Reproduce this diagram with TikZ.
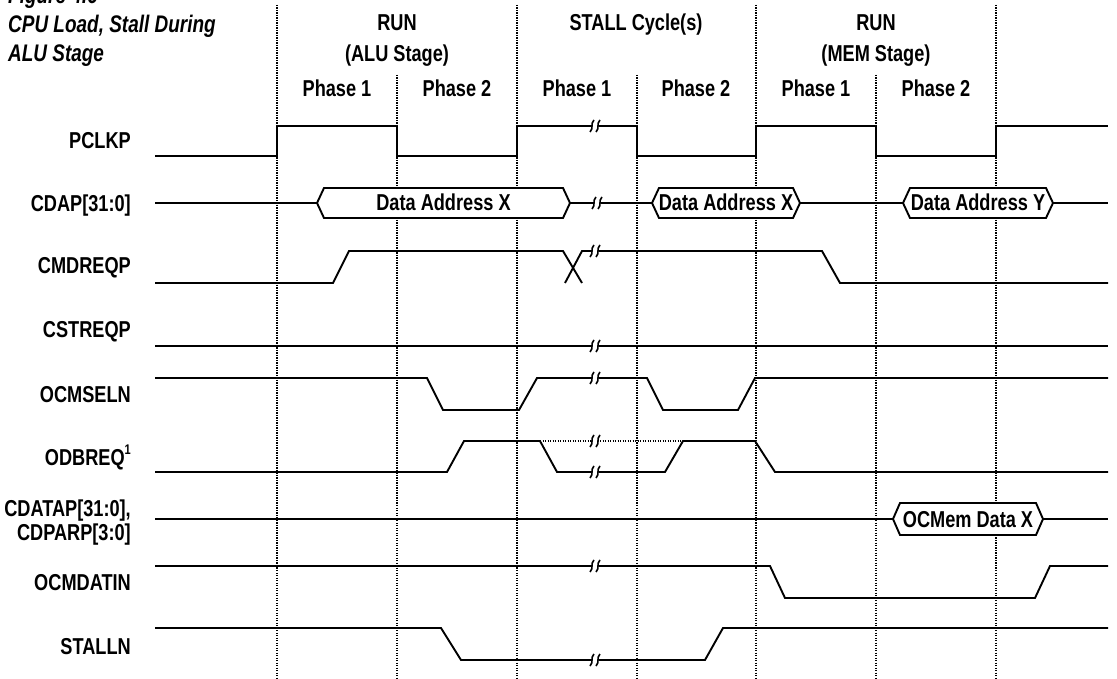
\documentclass[tikz,border=0pt]{standalone}
\usepackage{fontspec}
\newfontfamily\cnd{Liberation Sans}[FakeStretch=0.79]
\newcommand\brkmark[2]{%
  \fill[white] (#1-3.5,#2-3) rectangle (#1+3.5,#2+3);
  \draw[line width=1.6pt] (#1-5,#2+6) .. controls (#1-1,#2+2) and (#1-5,#2-2) .. (#1-1,#2-6);
  \draw[line width=1.6pt] (#1+1,#2+6) .. controls (#1+5,#2+2) and (#1+1,#2-2) .. (#1+5,#2-6);}
\newcommand\busshape[4]{%
  \draw[sig,fill=white] (#1,#3) -- (#1+7,#3-#4) -- (#2-7,#3-#4) -- (#2,#3) -- (#2-7,#3+#4) -- (#1+7,#3+#4) -- cycle;}
\begin{document}
\begin{tikzpicture}[x=1pt,y=-1pt,
  sig/.style={line width=1.9pt, line join=miter},
  gridline/.style={line width=1.1pt, dash pattern=on 1.2pt off 1.3pt},
  lab/.style={anchor=base east, inner sep=0pt, font={\cnd\bfseries\fontsize{23}{27}\selectfont}},
  hdr/.style={anchor=base, inner sep=0pt, font={\cnd\bfseries\fontsize{23}{27}\selectfont}},
  bustxt/.style={anchor=base, inner sep=0pt, font={\cnd\bfseries\fontsize{23}{27}\selectfont}},
  ttl/.style={anchor=base west, inner sep=0pt, font={\cnd\bfseries\itshape\fontsize{24}{28}\selectfont}}]
\useasboundingbox (0,0) rectangle (1117,679);
\fill[white] (0,0) rectangle (1117,679);

% title
\node[ttl] (fig) at (8,4) {Figure 4.6};
\node[ttl] (t1) at (8,33) {CPU Load, Stall During};
\node[ttl] (t2) at (8,62) {ALU Stage};

% grid
\foreach \x in {277,517,756,996} \draw[gridline] (\x,5) -- (\x,679);
\foreach \x in {397,637,876} \draw[gridline] (\x,75) -- (\x,679);

% header
\node[hdr] (run1) at (397,31) {RUN};
\node[hdr] (alu) at (397,62) {(ALU Stage)};
\node[hdr] (stall) at (636,31) {STALL Cycle(s)};
\node[hdr] (run2) at (876,31) {RUN};
\node[hdr] (mem) at (876,62) {(MEM Stage)};
\node[hdr] (p1a) at (337,97) {Phase 1};
\node[hdr] (p2a) at (457,97) {Phase 2};
\node[hdr] (p1b) at (577,97) {Phase 1};
\node[hdr] (p2b) at (696,97) {Phase 2};
\node[hdr] (p1c) at (816,97) {Phase 1};
\node[hdr] (p2c) at (936,97) {Phase 2};

% labels
\node[lab] (lpclkp) at (131,149) {PCLKP};
\node[lab] (lcdap) at (131,212) {CDAP[31:0]};
\node[lab] (lcmd) at (131,274) {CMDREQP};
\node[lab] (lcst) at (131,337.5) {CSTREQP};
\node[lab] (locm) at (131,402.5) {OCMSELN};
\node[lab] (lodb) at (131,465.5) {ODBREQ\raisebox{0.5em}{\fontsize{14}{14}\selectfont 1}};
\node[lab] (lcdata) at (131,516.5) {CDATAP[31:0],};
\node[lab] (lcdpar) at (131,540) {CDPARP[3:0]};
\node[lab] (locmd) at (131,590) {OCMDATIN};
\node[lab] (lstall) at (131,654) {STALLN};

% PCLKP
\draw[sig] (155,156) -- (277,156) -- (277,126) -- (397,126) -- (397,156) -- (517,156) -- (517,126) -- (637,126) -- (637,156) -- (756,156) -- (756,126) -- (876,126) -- (876,156) -- (996,156) -- (996,126) -- (1108,126);
\brkmark{595}{126}

% CDAP
\draw[sig] (155,203) -- (317,203);
\busshape{317}{570}{203}{15}
\draw[sig] (570,203) -- (652,203);
\busshape{652}{800}{203}{15}
\draw[sig] (800,203) -- (903,203);
\busshape{903}{1053}{203}{15}
\draw[sig] (1053,203) -- (1108,203);
\brkmark{597}{203}
\node[bustxt] (dax1) at (443.5,211) {Data Address X};
\node[bustxt] (dax2) at (726,211) {Data Address X};
\node[bustxt] (day) at (978,211) {Data Address Y};

% CMDREQP
\draw[sig] (155,283) -- (333,283) -- (349,251) -- (563,251) -- (582,283);
\draw[sig] (565,283) -- (582,251) -- (822,251) -- (840,283) -- (1108,283);
\brkmark{595}{251}

% CSTREQP
\draw[sig] (155,346) -- (1108,346);
\brkmark{595}{346}

% OCMSELN
\draw[sig] (155,378) -- (427,378) -- (443,410) -- (519,410) -- (537,378) -- (647,378) -- (663,410) -- (738,410) -- (755,378) -- (1108,378);
\brkmark{595}{378}

% ODBREQ
\draw[gridline] (540,441) -- (683,441);
\draw[sig] (155,472) -- (447,472) -- (464,441) -- (540,441) -- (557,472) -- (665,472) -- (683,441) -- (755,441) -- (775,472) -- (1108,472);
\brkmark{595}{441}
\brkmark{595}{472}

% CDATAP / CDPARP
\draw[sig] (155,519) -- (893,519);
\busshape{893}{1043}{519}{16}
\draw[sig] (1043,519) -- (1108,519);
\node[bustxt] (ocm) at (968,527) {OCMem Data X};

% OCMDATIN
\draw[sig] (155,566) -- (770,566) -- (785,598) -- (1035,598) -- (1050,566) -- (1108,566);
\brkmark{595}{566}

% STALLN
\draw[sig] (155,628) -- (441,628) -- (461,660) -- (705,660) -- (723,628) -- (1108,628);
\brkmark{595}{660}
\end{tikzpicture}
\end{document}
